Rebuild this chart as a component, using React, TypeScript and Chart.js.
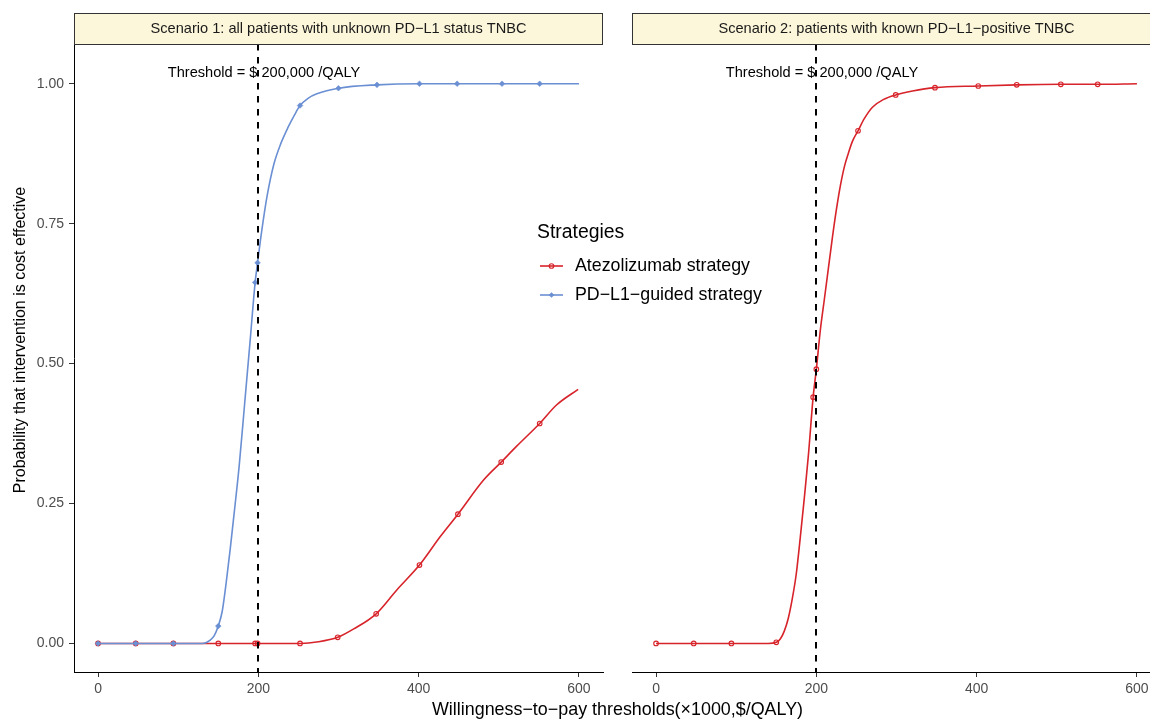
import React, { useEffect, useRef } from "react";
import { Chart, registerables } from "chart.js";

Chart.register(...registerables);

const FONT = "'Liberation Sans', Arimo, Arial, Helvetica, sans-serif";
const RED = "#D7232A";
const BLUE = "#6A8FD3";
const STRIP_FILL = "#FCF7DA";

// ---- text ----
const panelTitles = [
  "Scenario 1: all patients with unknown PD\u2212L1 status TNBC",
  "Scenario 2: patients with known PD\u2212L1\u2212positive TNBC",
];
const seriesNames = ["Atezolizumab strategy", "PD\u2212L1\u2212guided strategy"];
const legendTitle = "Strategies";
const xTitle = "Willingness\u2212to\u2212pay thresholds(\u00d71000,$/QALY)";
const yTitle = "Probability that intervention is cost effective";
const thresholdLabel = "Threshold = $ 200,000 /QALY";
const thresholdX = 200;
const thresholdLabelX = 207;
const thresholdLabelY = 1.02;

// ---- axes ----
const xTicks = [0, 200, 400, 600];
const yTicks = [0, 0.25, 0.5, 0.75, 1];
const yTickLabels = ["0.00", "0.25", "0.50", "0.75", "1.00"];
const xMin = -30;
const xMax = 630;
const yMin = -0.051;
const yMax = 1.071;

// ---- Scenario 1: PD-L1-guided strategy (curve + markers) ----
const s1GuidedCurveX = [0, 47, 94, 130, 140, 145, 150, 155, 160, 165, 170, 176, 183, 190, 196, 199, 204, 211, 219.5, 228, 237, 245, 252, 262, 273, 300, 348, 401, 448, 504, 551, 600];
const s1GuidedCurveY = [0, 0, 0, 0, 0.006, 0.014, 0.031, 0.058, 0.11, 0.17, 0.235, 0.316, 0.43, 0.545, 0.645, 0.68, 0.735, 0.8, 0.857, 0.893, 0.922, 0.944, 0.961, 0.974, 0.982, 0.992, 0.998, 1.0, 1.0, 1.0, 1.0, 1.0];
const s1GuidedPointX = [0, 47, 94, 150, 196, 199, 252, 300, 348, 401, 448, 504, 551];
const s1GuidedPointY = [0, 0, 0, 0.031, 0.645, 0.68, 0.961, 0.992, 0.998, 1.0, 1.0, 1.0, 1.0];

// ---- Scenario 1: Atezolizumab strategy ----
const s1AtezoCurveX = [0, 47, 94, 150, 198, 252, 275, 299, 319, 347, 373, 401, 427, 449, 481, 503, 522, 551, 572, 599];
const s1AtezoCurveY = [0, 0, 0, 0, 0, 0, 0.003, 0.011, 0.026, 0.053, 0.096, 0.14, 0.191, 0.231, 0.292, 0.324, 0.352, 0.393, 0.426, 0.454];
const s1AtezoPointX = [0, 47, 94, 150, 196, 199, 252, 299, 347, 401, 449, 503, 551];
const s1AtezoPointY = [0, 0, 0, 0, 0, 0, 0, 0.011, 0.053, 0.14, 0.231, 0.324, 0.393];

// ---- Scenario 2: Atezolizumab strategy ----
const s2AtezoCurveX = [0, 47, 94, 140, 150, 155, 160, 165, 170, 175, 180, 185, 190, 196, 200, 205, 210, 215, 220, 225, 230, 235, 240, 245, 252, 260, 270, 284, 299, 320, 348, 402, 450, 505, 551, 600];
const s2AtezoCurveY = [0, 0, 0, 0, 0.002, 0.008, 0.022, 0.045, 0.08, 0.125, 0.19, 0.26, 0.335, 0.44, 0.49, 0.56, 0.615, 0.67, 0.725, 0.775, 0.818, 0.852, 0.876, 0.897, 0.916, 0.938, 0.958, 0.972, 0.98, 0.987, 0.993, 0.996, 0.998, 0.999, 0.999, 1.0];
const s2AtezoPointX = [0, 47, 94, 150, 196, 200, 252, 299, 348, 402, 450, 505, 551];
const s2AtezoPointY = [0, 0, 0, 0.002, 0.44, 0.49, 0.916, 0.98, 0.993, 0.996, 0.998, 0.999, 0.999];

const zip = (xs: number[], ys: number[]) => xs.map((x, i) => ({ x, y: ys[i] }));

function lineDs(label: string, xs: number[], ys: number[], color: string, order: number) {
  return {
    label,
    data: zip(xs, ys),
    borderColor: color,
    backgroundColor: color,
    borderWidth: 1.6,
    pointRadius: 0,
    cubicInterpolationMode: "monotone" as const,
    fill: false,
    order,
  };
}

function markerDs(label: string, xs: number[], ys: number[], color: string, style: string, order: number) {
  const filled = style !== "circle";
  return {
    label,
    data: zip(xs, ys),
    showLine: false,
    borderColor: color,
    backgroundColor: filled ? color : "rgba(0,0,0,0)",
    pointStyle: style,
    pointRadius: filled ? 2.8 : 2.3,
    pointBorderWidth: filled ? 0.6 : 1.1,
    order,
  };
}

function drawMarker(ctx: CanvasRenderingContext2D, style: string, x: number, y: number, color: string) {
  ctx.save();
  if (style === "circle") {
    ctx.strokeStyle = color;
    ctx.lineWidth = 1.1;
    ctx.beginPath();
    ctx.arc(x, y, 2.3, 0, Math.PI * 2);
    ctx.stroke();
  } else {
    ctx.fillStyle = color;
    const r = 2.8;
    ctx.beginPath();
    ctx.moveTo(x, y - r);
    ctx.lineTo(x + r, y);
    ctx.lineTo(x, y + r);
    ctx.lineTo(x - r, y);
    ctx.closePath();
    ctx.fill();
  }
  ctx.restore();
}

const decorPlugin = {
  id: "panelDecor",
  afterDatasetsDraw(chart: any) {
    const { ctx, chartArea: a, scales } = chart;
    const xs = scales.x;
    const ys = scales.y;
    const px = Math.round(xs.getPixelForValue(thresholdX));
    ctx.save();
    ctx.strokeStyle = "#000";
    ctx.lineWidth = 2;
    ctx.setLineDash([6.5, 6.5]);
    ctx.beginPath();
    ctx.moveTo(px, a.top);
    ctx.lineTo(px, a.bottom);
    ctx.stroke();
    ctx.setLineDash([]);
    ctx.fillStyle = "#000";
    ctx.font = `14.6px ${FONT}`;
    ctx.textAlign = "center";
    ctx.textBaseline = "middle";
    ctx.fillText(thresholdLabel, xs.getPixelForValue(thresholdLabelX), ys.getPixelForValue(thresholdLabelY));
    ctx.restore();
  },
  afterDraw(chart: any, _args: any, opts: any) {
    const { ctx, chartArea: a } = chart;
    ctx.save();
    // strip
    const top = 13;
    const h = a.top - top;
    ctx.fillStyle = STRIP_FILL;
    ctx.fillRect(a.left, top, a.right - a.left, h);
    ctx.strokeStyle = "#333";
    ctx.lineWidth = 1;
    ctx.strokeRect(a.left + 0.5, top + 0.5, a.right - a.left - 1, h);
    ctx.fillStyle = "#1A1A1A";
    ctx.font = `14.6px ${FONT}`;
    ctx.textAlign = "center";
    ctx.textBaseline = "middle";
    ctx.fillText(opts.title, (a.left + a.right) / 2, top + h / 2 + 0.5);

    if (opts.main) {
      // axis titles
      ctx.fillStyle = "#000";
      ctx.font = `17.9px ${FONT}`;
      ctx.fillText(xTitle, 617.5, 710);
      ctx.save();
      ctx.translate(21, 340);
      ctx.rotate(-Math.PI / 2);
      ctx.font = `16px ${FONT}`;
      ctx.fillText(yTitle, 0, 0);
      ctx.restore();

      // legend
      ctx.textAlign = "left";
      ctx.fillStyle = "#000";
      ctx.font = `19.4px ${FONT}`;
      ctx.fillText(legendTitle, 537, 233);
      const items = [
        { name: seriesNames[0], color: RED, style: "circle", y: 266 },
        { name: seriesNames[1], color: BLUE, style: "rectRot", y: 295 },
      ];
      items.forEach((it) => {
        ctx.strokeStyle = it.color;
        ctx.lineWidth = 1.6;
        ctx.beginPath();
        ctx.moveTo(540, it.y);
        ctx.lineTo(563, it.y);
        ctx.stroke();
        drawMarker(ctx, it.style, 551.5, it.y, it.color);
        ctx.fillStyle = "#000";
        ctx.font = `17.8px ${FONT}`;
        ctx.fillText(it.name, 575, it.y);
      });
    }
    ctx.restore();
  },
};

function makeOptions(main: boolean, title: string, padRight: number) {
  return {
    responsive: false,
    animation: false as const,
    events: [] as any[],
    layout: { autoPadding: false, padding: { left: 0, right: padRight, top: 44, bottom: 0 } },
    plugins: {
      legend: { display: false },
      tooltip: { enabled: false },
      panelDecor: { title, main },
    },
    scales: {
      x: {
        type: "linear" as const,
        min: xMin,
        max: xMax,
        afterBuildTicks: (s: any) => {
          s.ticks = xTicks.map((v) => ({ value: v }));
        },
        afterFit: (s: any) => {
          s.height = 47;
        },
        ticks: {
          color: "#4D4D4D",
          font: { family: FONT, size: 14 },
          padding: 4,
          maxRotation: 0,
          callback: (v: any) => String(v),
        },
        grid: { display: true, drawOnChartArea: false, drawTicks: true, tickLength: 5, color: "#333", lineWidth: 1 },
        border: { display: true, color: "#000", width: 1 },
      },
      y: {
        type: "linear" as const,
        display: main,
        min: yMin,
        max: yMax,
        afterBuildTicks: (s: any) => {
          s.ticks = yTicks.map((v) => ({ value: v }));
        },
        afterFit: (s: any) => {
          s.width = main ? 74 : 0;
        },
        ticks: {
          color: "#4D4D4D",
          font: { family: FONT, size: 14 },
          padding: 5,
          callback: (v: any) => {
            const i = yTicks.indexOf(Number(v));
            return i >= 0 ? yTickLabels[i] : "";
          },
        },
        grid: { display: true, drawOnChartArea: false, drawTicks: true, tickLength: 5, color: "#333", lineWidth: 1 },
        border: { display: true, color: "#000", width: 1 },
      },
    },
  };
}

export default function App() {
  const leftRef = useRef<HTMLCanvasElement>(null);
  const rightRef = useRef<HTMLCanvasElement>(null);

  useEffect(() => {
    const left = new Chart(leftRef.current as HTMLCanvasElement, {
      type: "line",
      data: {
        datasets: [
          markerDs(seriesNames[1], s1GuidedPointX, s1GuidedPointY, BLUE, "rectRot", 0),
          lineDs(seriesNames[1], s1GuidedCurveX, s1GuidedCurveY, BLUE, 1),
          markerDs(seriesNames[0], s1AtezoPointX, s1AtezoPointY, RED, "circle", 2),
          lineDs(seriesNames[0], s1AtezoCurveX, s1AtezoCurveY, RED, 3),
        ] as any,
      },
      options: makeOptions(true, panelTitles[0], 1150 - 603) as any,
      plugins: [decorPlugin as any],
    });
    const right = new Chart(rightRef.current as HTMLCanvasElement, {
      type: "line",
      data: {
        datasets: [
          markerDs(seriesNames[0], s2AtezoPointX, s2AtezoPointY, RED, "circle", 0),
          lineDs(seriesNames[0], s2AtezoCurveX, s2AtezoCurveY, RED, 1),
        ] as any,
      },
      options: makeOptions(false, panelTitles[1], 0) as any,
      plugins: [decorPlugin as any],
    });
    return () => {
      left.destroy();
      right.destroy();
    };
  }, []);

  return (
    <div
      style={{
        position: "fixed",
        left: 0,
        top: 0,
        width: 1150,
        height: 719,
        overflow: "hidden",
        background: "#fff",
      }}
    >
      <canvas
        ref={leftRef}
        width={1150}
        height={719}
        style={{ position: "absolute", left: 0, top: 0, width: 1150, height: 719 }}
      />
      <canvas
        ref={rightRef}
        width={529}
        height={719}
        style={{ position: "absolute", left: 632, top: 0, width: 529, height: 719 }}
      />
    </div>
  );
}
